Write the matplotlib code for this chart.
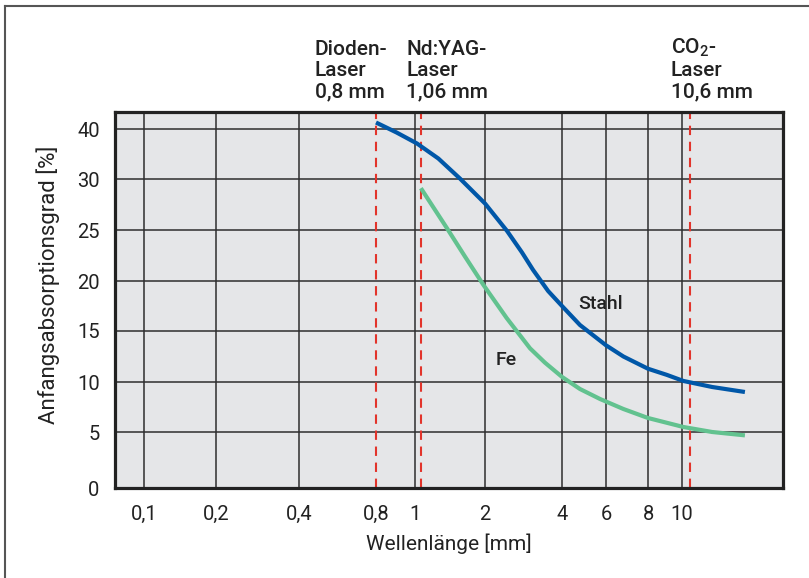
import numpy as np
import matplotlib
matplotlib.use("Agg")
import matplotlib.pyplot as plt
from matplotlib.lines import Line2D
import matplotlib.transforms as mtransforms

plt.rcParams['font.family'] = ['Roboto', 'DejaVu Sans']
plt.rcParams['mathtext.default'] = 'regular'

# 1. Data
stahl_x = [0.8, 0.90, 1.02, 1.26, 1.56, 2.0, 2.44, 2.79, 3.08, 3.53, 4.0, 4.72, 6.0, 6.76, 8.0, 9.05, 10.1, 12.3, 15.4]
stahl_y = [41.3, 39.3, 37.1, 34.1, 30.1, 27.6, 24.9, 22.8, 21.1, 19.0, 17.5, 15.6, 13.6, 12.5, 11.3, 10.7, 10.1, 9.5, 9.0]

fe_x = [1.06, 1.37, 1.64, 1.97, 2.43, 3.0, 3.43, 4.0, 4.72, 5.68, 6.76, 8.0, 10.1, 12.3, 15.4]
fe_y = [29.1, 25.2, 22.4, 19.6, 16.3, 13.3, 11.9, 10.5, 9.3, 8.3, 7.3, 6.4, 5.5, 5.0, 4.7]

laser_x = [0.8, 1.06, 10.6]
laser_labels = ["Dioden-\nLaser\n0,8 mm", "Nd:YAG-\nLaser\n1,06 mm", "CO$_2$-\nLaser\n10,6 mm"]
laser_text_x = [0.46, 0.95, 9.3]

x_ticks = [0.1, 0.2, 0.4, 0.8, 1, 2, 4, 6, 8, 10]
x_ticklabels = ["0,1", "0,2", "0,4", "0,8", "1", "2", "4", "6", "8", "10"]
x_grid = [0.1, 0.2, 0.4, 1, 2, 4, 6, 8, 10]

y_ticks = [0, 5, 10, 15, 20, 25, 30, 40]
y_ticklabels = ["0", "5", "10", "15", "20", "25", "30", "40"]

# 2. The printed axes are not evenly spaced: map tick values to their drawn positions
x_anchor_vals = np.log10([0.075, 0.1, 0.2, 0.4, 0.8, 1, 2, 4, 6, 8, 10, 20])
x_anchor_pos = np.array([0, 29, 101, 184, 261, 300, 370, 447, 491, 533, 567, 668], dtype=float)
y_anchor_vals = np.array([0, 5, 10, 15, 20, 25, 30, 40, 50], dtype=float)
y_anchor_pos = np.array([0, 56, 106, 157, 207, 258, 309, 359, 409], dtype=float)


def x_fwd(x):
    x = np.clip(np.asarray(x, dtype=float), 1e-6, None)
    return np.interp(np.log10(x), x_anchor_vals, x_anchor_pos)


def x_inv(p):
    return 10 ** np.interp(p, x_anchor_pos, x_anchor_vals)


def y_fwd(v):
    return np.interp(v, y_anchor_vals, y_anchor_pos)


def y_inv(p):
    return np.interp(p, y_anchor_pos, y_anchor_vals)


# 3. Figure
fig = plt.figure(figsize=(8.09, 5.78), dpi=100)
ax = fig.add_axes([115 / 809, 90 / 578, 668 / 809, 376 / 578])
ax.set_xscale('function', functions=(x_fwd, x_inv))
ax.set_yscale('function', functions=(y_fwd, y_inv))
ax.set_xlim(0.075, 20)
ax.set_ylim(0, 43.4)
ax.set_facecolor('#e5e6e8')

grid_color = '#2e2e2e'
for gx in x_grid:
    ax.axvline(gx, color=grid_color, lw=1.1, zorder=1)
for gy in y_ticks[1:]:
    ax.axhline(gy, color=grid_color, lw=1.1, zorder=1)

for lx in laser_x:
    ax.axvline(lx, color='#e2342b', lw=1.5, dashes=(4.5, 3.2), zorder=2)

ax.plot(stahl_x, stahl_y, color='#0057a8', lw=3.0, solid_capstyle='butt',
        solid_joinstyle='round', zorder=3)
ax.plot(fe_x, fe_y, color='#62c28f', lw=3.0, solid_capstyle='butt',
        solid_joinstyle='round', zorder=3)

ax.text(5.73, 17.7, "Stahl", fontsize=14, fontweight='medium', color='#222222',
        ha='center', va='center', zorder=4)
ax.text(2.42, 12.2, "Fe", fontsize=14, fontweight='medium', color='#222222',
        ha='center', va='center', zorder=4)

trans = mtransforms.blended_transform_factory(ax.transData, ax.transAxes)
for tx, lab in zip(laser_text_x, laser_labels):
    ax.text(tx, 1.027, lab, transform=trans, fontsize=15, fontweight='medium',
            color='#222222', ha='left', va='bottom', linespacing=1.17)

ax.set_xticks(x_ticks)
ax.set_xticklabels(x_ticklabels)
ax.set_yticks(y_ticks)
ax.set_yticklabels(y_ticklabels)
ax.minorticks_off()
ax.tick_params(length=0, labelsize=14.5, colors='#222222', pad=12)
ax.tick_params(axis='y', pad=11)

for s in ax.spines.values():
    s.set_linewidth(2.3)
    s.set_color('#222222')

ax.set_xlabel("Wellenlänge [mm]", fontsize=15, color='#222222', labelpad=7)
ax.set_ylabel("Anfangsabsorptionsgrad [%]", fontsize=16, color='#222222')
ax.yaxis.set_label_coords(-0.082, 0.54)

# 4. Thin frame round the figure (left and top edges)
fig.add_artist(Line2D([5 / 809, 5 / 809], [0, 1 - 5.5 / 578], transform=fig.transFigure,
                      color='#555555', lw=1.5))
fig.add_artist(Line2D([5 / 809, 1], [1 - 5.5 / 578, 1 - 5.5 / 578], transform=fig.transFigure,
                      color='#555555', lw=1.5))

fig.savefig("out.png", dpi=100)
